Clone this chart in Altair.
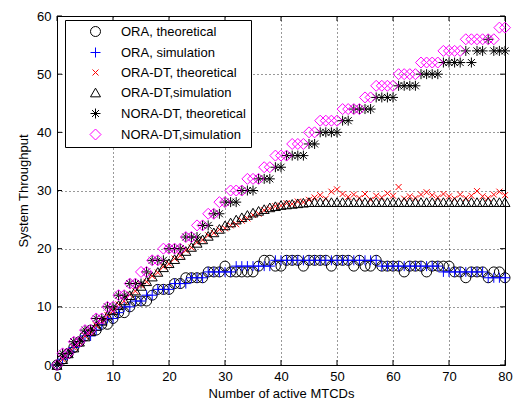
import altair as alt
import pandas as pd

# ---------------- data ----------------
x_vals = list(range(81))

ora_theoretical = [
    0, 1, 2, 3, 4, 5, 6, 6, 7, 7, 8, 9, 9, 10, 11, 11, 11, 12, 13, 13,
    13, 14, 14, 15, 15, 15, 15, 16, 16, 16, 17, 16, 16, 16, 16, 16, 17, 18, 18, 17,
    17, 18, 18, 18, 17, 18, 18, 18, 18, 17, 18, 18, 18, 17, 18, 17, 17, 18, 17, 17,
    17, 17, 16, 17, 17, 17, 16, 17, 17, 17, 17, 16, 16, 15, 16, 16, 16, 15, 16, 16,
    15]

ora_simulation = [
    0, 1, 2, 3, 4, 5, 5, 6, 7, 8, 8, 9, 10, 10, 11, 11, 12, 12, 13, 13,
    13, 14, 14, 14, 15, 15, 15, 16, 16, 16, 16, 16, 17, 17, 17, 17, 17, 17, 17, 18,
    18, 18, 18, 18, 18, 18, 18, 18, 18, 18, 18, 18, 18, 18, 18, 18, 18, 18, 17, 17,
    17, 17, 17, 17, 17, 17, 17, 17, 17, 16, 16, 16, 16, 16, 16, 16, 16, 15, 15, 15,
    15]

oradt_theoretical = [
    0, 1, 2, 3, 3.9, 5, 5.7, 6.8, 7.5, 8.6, 9.3, 10.4, 11, 12.1, 12.7, 13.7, 14.3, 15.3, 15.9, 16.9,
    17.4, 18.3, 18.8, 19.7, 20.2, 21.1, 21.5, 22.3, 22.7, 23.3, 23.5, 24.0, 24.2, 24.8, 25.2, 25.8, 26.0, 26.6, 26.9, 27.3,
    27.4, 27.8, 27.7, 28.1, 28.0, 28.4, 28.8, 29.2, 28.6, 29.8, 30.2, 29.4, 28.9, 29.3, 28.7, 29.4, 28.4, 29.1, 28.8, 29.5,
    29.1, 30.6, 28.6, 29.0, 28.7, 29.3, 29.7, 29.2, 28.8, 29.4, 29.0, 28.6, 29.3, 28.7, 29.1, 29.9, 29.0, 28.7, 29.3, 29.8,
    29.2]

oradt_simulation = [
    0, 1, 2, 3, 4, 4.9, 5.8, 6.7, 7.6, 8.5, 9.4, 10.3, 11.1, 12, 12.8, 13.6, 14.4, 15.2, 16, 16.8,
    17.5, 18.2, 18.9, 19.6, 20.3, 21, 21.6, 22.2, 22.8, 23.4, 24, 24.5, 25, 25.4, 25.8, 26.2, 26.5, 26.8, 27.1, 27.3,
    27.5, 27.6, 27.7, 27.8, 27.9, 28, 28, 28, 28, 28, 28, 28, 28, 28, 28, 28, 28, 28, 28, 28,
    28, 28, 28, 28, 28, 28, 28, 28, 28, 28, 28, 28, 28, 28, 28, 28, 28, 28, 28, 28,
    28]

noradt_theoretical = [
    0, 2, 2, 4, 4, 6, 6, 8, 8, 10, 10, 12, 12, 14, 14, 14, 16, 18, 18, 18,
    20, 20, 20, 22, 22, 22, 24, 24, 26, 26, 28, 28, 28, 30, 30, 30, 32, 32, 32, 34,
    34, 36, 36, 36, 36, 38, 38, 40, 40, 40, 40, 42, 42, 44, 44, 44, 44, 46, 46, 46,
    46, 48, 48, 48, 48, 50, 50, 50, 50, 52, 52, 52, 52, 54, 52, 54, 54, 56, 54, 54,
    54]

noradt_simulation = [
    0, 2, 2, 4, 4, 6, 6, 8, 8, 10, 10, 12, 12, 14, 14, 16, 16, 18, 18, 20,
    20, 20, 20, 22, 22, 24, 24, 26, 26, 28, 28, 30, 30, 30, 32, 32, 32, 34, 34, 36,
    36, 36, 38, 38, 38, 40, 40, 42, 42, 42, 42, 44, 44, 44, 44, 46, 46, 48, 48, 48,
    48, 50, 50, 50, 50, 52, 52, 52, 52, 54, 54, 54, 54, 56, 56, 56, 56, 56, 56, 58,
    58]

series_names = ["ORA, theoretical", "ORA, simulation", "ORA-DT, theoretical",
                "ORA-DT,simulation", "NORA-DT, theoretical", "NORA-DT,simulation"]
series_values = [ora_theoretical, ora_simulation, oradt_theoretical,
                 oradt_simulation, noradt_theoretical, noradt_simulation]
series_colors = ["#000000", "#0000FF", "#FF0000", "#000000", "#000000", "#FF00FF"]
series_shapes = [
    "circle",
    "M-1,0L1,0M0,-1L0,1",
    "M-0.6,-0.6L0.6,0.6M-0.6,0.6L0.6,-0.6",
    "triangle-up",
    "M-1,0L1,0M0,-1L0,1M-0.7,-0.7L0.7,0.7M-0.7,0.7L0.7,-0.7",
    "M0,-1.1L1.1,0L0,1.1L-1.1,0Z",
]

x_ticks = [0, 10, 20, 30, 40, 50, 60, 70, 80]
y_ticks = [0, 10, 20, 30, 40, 50, 60]

rows = []
for i, (name, vals) in enumerate(zip(series_names, series_values)):
    for xv, yv in zip(x_vals, vals):
        rows.append({"n": xv, "thr": yv, "series": name, "ord": i})
df = pd.DataFrame(rows)

W, H = 448, 349

xscale = alt.Scale(domain=[0, 80], nice=False, zero=False)
yscale = alt.Scale(domain=[0, 60], nice=False, zero=False)

points = alt.Chart(df).mark_point(filled=False, size=100, strokeWidth=1, opacity=1).encode(
    x=alt.X("n:Q", scale=xscale,
            axis=alt.Axis(values=x_ticks, title="Number of active MTCDs", grid=True,
                          labelPadding=5, titlePadding=4, format="d", labelFlush=False)),
    y=alt.Y("thr:Q", scale=yscale,
            axis=alt.Axis(values=y_ticks, title="System Throughput", grid=True,
                          labelPadding=6, format="d", labelFlush=False,
                          titleX=-34, titleBaseline="middle")),
    color=alt.Color("series:N", scale=alt.Scale(domain=series_names, range=series_colors),
                    legend=alt.Legend(title=None, orient="none", legendX=8, legendY=4)),
    shape=alt.Shape("series:N", scale=alt.Scale(domain=series_names, range=series_shapes),
                    legend=alt.Legend(title=None, orient="none", legendX=8, legendY=4)),
    order=alt.Order("ord:Q"),
)

xt = pd.DataFrame({"t": x_ticks})
yt = pd.DataFrame({"t": y_ticks})
tick_bottom = alt.Chart(xt).mark_rule(color="black", strokeWidth=1).encode(
    x=alt.X("t:Q", scale=xscale), y=alt.value(H), y2=alt.value(H - 5))
tick_top = alt.Chart(xt).mark_rule(color="black", strokeWidth=1).encode(
    x=alt.X("t:Q", scale=xscale), y=alt.value(0), y2=alt.value(5))
tick_left = alt.Chart(yt).mark_rule(color="black", strokeWidth=1).encode(
    y=alt.Y("t:Q", scale=yscale), x=alt.value(0), x2=alt.value(5))
tick_right = alt.Chart(yt).mark_rule(color="black", strokeWidth=1).encode(
    y=alt.Y("t:Q", scale=yscale), x=alt.value(W), x2=alt.value(W - 5))

chart = alt.layer(points, tick_bottom, tick_top, tick_left, tick_right).properties(
    width=W, height=H,
    autosize=alt.AutoSizeParams(type="none"),
    padding={"left": 57, "top": 16, "right": 10, "bottom": 36},
    background="white",
).configure_view(
    stroke="black", strokeWidth=1
).configure_axis(
    domain=False, ticks=False,
    labelFont="Liberation Sans", labelFontSize=13, labelColor="black",
    titleFont="Liberation Sans", titleFontSize=13, titleFontWeight="normal", titleColor="black",
    gridColor="black", gridDash=[1, 3], gridOpacity=0.8, gridWidth=1,
).configure_legend(
    labelFont="Liberation Sans", labelFontSize=13, labelColor="black",
    fillColor="white", strokeColor="black", padding=5,
    symbolOffset=19, labelOffset=19, rowPadding=6,
    symbolSize=100, symbolStrokeWidth=1, symbolType="circle",
    cornerRadius=0,
)

chart.save("out.html", embed_options={"renderer": "svg", "actions": False})
